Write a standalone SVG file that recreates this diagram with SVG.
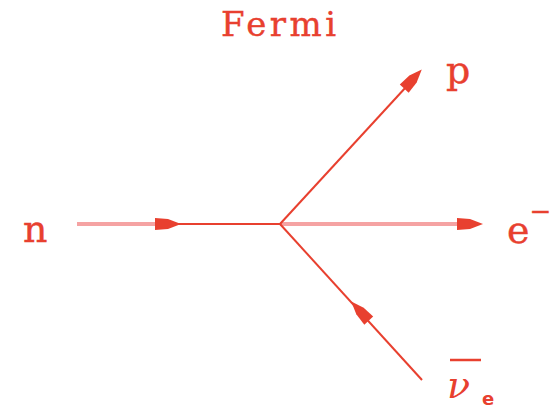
<svg xmlns="http://www.w3.org/2000/svg" width="554" height="409" viewBox="0 0 554 409">
<style>
text{font-family:"DejaVu Serif","Liberation Serif",serif;fill:#e8402f;stroke:#e8402f;stroke-width:0.4}
.lbl{font-size:38px}
.pink{stroke:#f5a3a3;stroke-width:4;fill:none}
.red{stroke:#e8402f;stroke-width:2;fill:none}
.ah{fill:#e8402f}
</style>
<defs>
<path id="arr" d="M-13,-6 L0,-5 L13,0 L0,5 L-13,6 Z"/>
</defs>
<rect width="554" height="409" fill="#ffffff"/>
<g id="title"><text x="221" y="36" style="font-size:34px;letter-spacing:3.5px">Fermi</text></g>
<g id="connectors">
<line class="pink" x1="77" y1="224" x2="160" y2="224"/>
<line class="red" x1="160" y1="224" x2="280" y2="224"/>
<line class="pink" x1="280" y1="224" x2="462" y2="224"/>
<line class="red" x1="280" y1="224" x2="418" y2="74"/>
<line class="red" x1="280" y1="224" x2="422" y2="380"/>
<use href="#arr" class="ah" transform="translate(168,224)"/>
<use href="#arr" class="ah" transform="translate(470,224)"/>
<use href="#arr" class="ah" transform="translate(413,79) rotate(-47.5)"/>
<use href="#arr" class="ah" transform="translate(360,311) rotate(-132.3)"/>
</g>
<g id="n"><text class="lbl" x="23" y="242">n</text></g>
<g id="p"><text class="lbl" x="446" y="83">p</text></g>
<g id="e"><text class="lbl" x="507" y="243">e<tspan style="font-size:26px" dy="-23">−</tspan></text></g>
<g id="nubar">
<line x1="450" y1="360" x2="481" y2="360" stroke="#e8402f" stroke-width="2.5"/>
<text class="lbl" x="447" y="398" style="font-style:italic;stroke-width:0">ν</text>
<text x="482" y="405" style="font-family:'DejaVu Sans',sans-serif;font-size:18px;font-weight:bold;stroke-width:0">e</text>
</g>
</svg>
